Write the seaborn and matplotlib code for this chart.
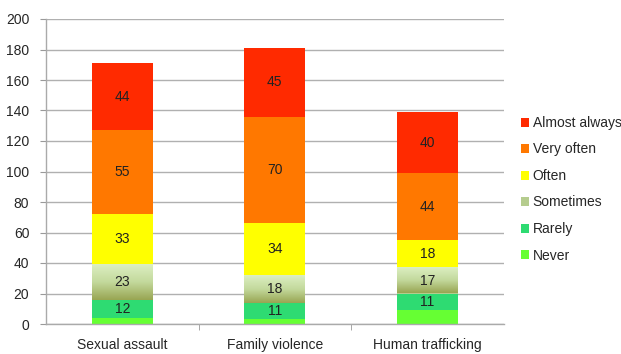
import numpy as np
import pandas as pd
import matplotlib
matplotlib.use("Agg")
import matplotlib.pyplot as plt
from matplotlib.colors import LinearSegmentedColormap
from matplotlib.patches import Patch
import seaborn as sns

categories = ["Sexual assault", "Family violence", "Human trafficking"]
levels = ["Never", "Rarely", "Sometimes", "Often", "Very often", "Almost always"]
never = [4, 3, 9]
rarely = [12, 11, 11]
sometimes = [23, 18, 17]
often = [33, 34, 18]
very_often = [55, 70, 44]
almost_always = [44, 45, 40]
labelled = {"Rarely", "Sometimes", "Often", "Very often", "Almost always"}

colors = {
    "Never": "#66ff33",
    "Rarely": "#2edb72",
    "Sometimes": "#b5cc8e",
    "Often": "#ffff00",
    "Very often": "#ff7800",
    "Almost always": "#ff2a00",
}

values = pd.DataFrame(
    [never, rarely, sometimes, often, very_often, almost_always],
    index=levels, columns=categories,
)
tops = values.cumsum()
bottoms = tops - values

sns.set_style("white")
plt.rcParams["font.family"] = ["Liberation Sans", "DejaVu Sans"]

fig = plt.figure(figsize=(6.21, 3.54), dpi=100)
ax = fig.add_axes([46 / 621, 30 / 354, 457.5 / 621, 305 / 354])

# stacked bars: draw cumulative totals from the top layer down
bar_width = 0.4
for lvl in reversed(levels):
    df = pd.DataFrame({"category": categories, "total": tops.loc[lvl].values})
    sns.barplot(data=df, x="category", y="total", order=categories,
                color=colors[lvl], width=bar_width, saturation=1,
                linewidth=0, ax=ax, zorder=2)

# vertical shading on the "Sometimes" segments
shade = LinearSegmentedColormap.from_list("shade", ["#98a552", "#c3d99c", "#dcefc2"])
grad = np.linspace(0, 1, 256).reshape(-1, 1)
for i, cat in enumerate(categories):
    b = bottoms.loc["Sometimes", cat]
    t = tops.loc["Sometimes", cat]
    ax.imshow(grad, cmap=shade, origin="lower", aspect="auto",
              extent=(i - bar_width / 2, i + bar_width / 2, b, t), zorder=2.5)

# value labels centred in each segment
for lvl in levels:
    if lvl not in labelled:
        continue
    for i, cat in enumerate(categories):
        v = values.loc[lvl, cat]
        ax.text(i, bottoms.loc[lvl, cat] + v / 2, f"{v}", ha="center", va="center",
                fontsize=10, color="#222222", zorder=4)

ax.set_xlim(-0.5, 2.5)
ax.set_ylim(0, 200)
ax.set_yticks(range(0, 201, 20))
ax.yaxis.grid(True, color="#b0b0b0", linewidth=1)
ax.set_axisbelow(True)
ax.set_xlabel("")
ax.set_ylabel("")
ax.tick_params(axis="y", length=4, color="#999999", labelsize=10, pad=8, left=True)
ax.tick_params(axis="x", length=0, labelsize=10, pad=10)
ax.set_xticks([0.5, 1.5], minor=True)
ax.tick_params(axis="x", which="minor", length=4, color="#999999", bottom=True)
for side in ["top", "right"]:
    ax.spines[side].set_visible(False)
for side in ["left", "bottom"]:
    ax.spines[side].set_color("#aaaaaa")
    ax.spines[side].set_linewidth(1)

handles = [Patch(facecolor=colors[l], edgecolor="none") for l in reversed(levels)]
fig.legend(handles, list(reversed(levels)), loc="upper left",
           bbox_to_anchor=(521 / 621, 1 - 116 / 354), frameon=False,
           fontsize=10, handlelength=0.6, handleheight=0.6, handletextpad=0.25,
           labelspacing=0.9, borderpad=0, borderaxespad=0)

fig.savefig("out.png", dpi=100)
